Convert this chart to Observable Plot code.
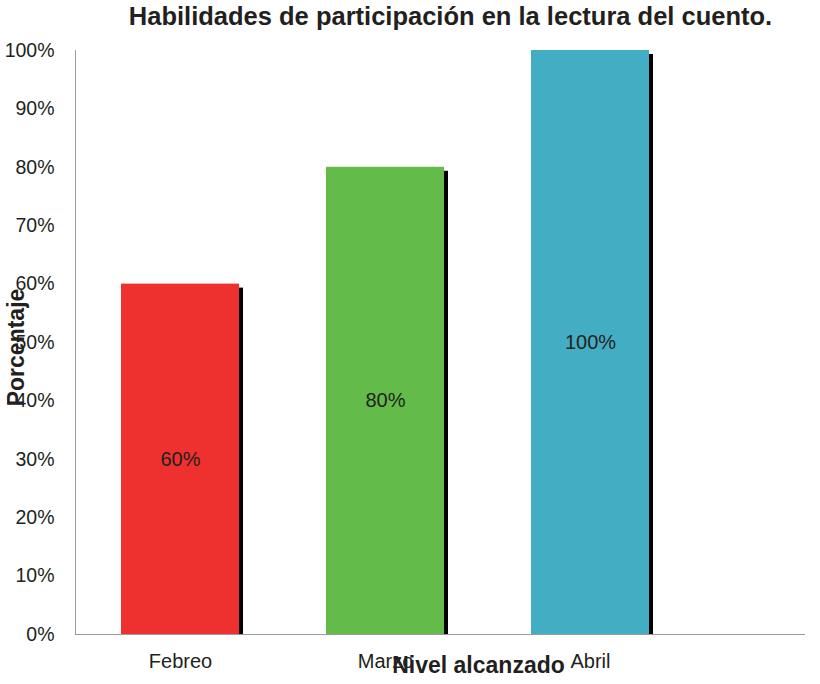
<!DOCTYPE html>
<html>
<head>
<meta charset="utf-8">
<script src="https://cdn.jsdelivr.net/npm/d3@7"></script>
<script src="https://cdn.jsdelivr.net/npm/@observablehq/plot@0.6"></script>
<style>
  html, body { margin: 0; padding: 0; background: #fff; }
  #chart { width: 820px; height: 684px; }
</style>
</head>
<body>
<div id="chart"></div>
<script>
const titleText = "Habilidades de participación en la lectura del cuento.";
const xLabel = "Nivel alcanzado";
const yLabel = "Porcentaje";
const categories = ["Febreo", "Marzo", "Abril"];
const values = [60, 80, 100];
const colors = ["#EE312E", "#63BB49", "#43ADC4"];
const yTicks = [0, 10, 20, 30, 40, 50, 60, 70, 80, 90, 100];

const data = categories.map((c, i) => ({mes: c, valor: values[i], color: colors[i]}));
const textColor = "#231f20";
const font = "'Liberation Sans', Arial, Helvetica, sans-serif";

const chart = Plot.plot({
  width: 820,
  height: 684,
  marginTop: 50,
  marginBottom: 50,
  marginLeft: 75,
  marginRight: 15,
  style: {fontFamily: font, color: textColor, background: "#fff"},
  x: {domain: categories, range: [75, 694], paddingInner: 0.426, paddingOuter: 0.219},
  y: {domain: [0, 100]},
  marks: [
    Plot.barY(data, {x: "mes", y: "valor", fill: "#000", dx: 4, dy: 4, insetBottom: 3}),
    Plot.barY(data, {x: "mes", y: "valor", fill: d => d.color}),
    Plot.ruleY([0], {stroke: "#9a9a9a", strokeWidth: 1}),
    Plot.frame({anchor: "left", stroke: "#9a9a9a"}),
    Plot.axisY({ticks: yTicks, tickSize: 0, tickPadding: 21, tickFormat: d => d + "%", fontSize: 19.5, label: null}),
    Plot.axisX({tickSize: 0, tickPadding: 19, fontSize: 20, label: null}),
    Plot.text(data, {x: "mes", y: d => d.valor / 2, text: d => d.valor + "%", fontSize: 20, fill: textColor}),
    Plot.text([titleText], {text: d => d, frameAnchor: "top", lineAnchor: "middle", textAnchor: "middle", dx: 10, dy: -33.4, fontSize: 25.5, fontWeight: "bold", fill: textColor}),
    Plot.text([xLabel], {text: d => d, frameAnchor: "bottom", lineAnchor: "middle", textAnchor: "middle", dx: 38, dy: 31.6, fontSize: 23, fontWeight: "bold", fill: textColor}),
    Plot.text([yLabel], {text: d => d, frameAnchor: "left", lineAnchor: "middle", textAnchor: "middle", rotate: -90, dx: -58.4, dy: 5, fontSize: 23, fontWeight: "bold", fill: textColor})
  ]
});
document.getElementById("chart").appendChild(chart);
</script>
</body>
</html>
